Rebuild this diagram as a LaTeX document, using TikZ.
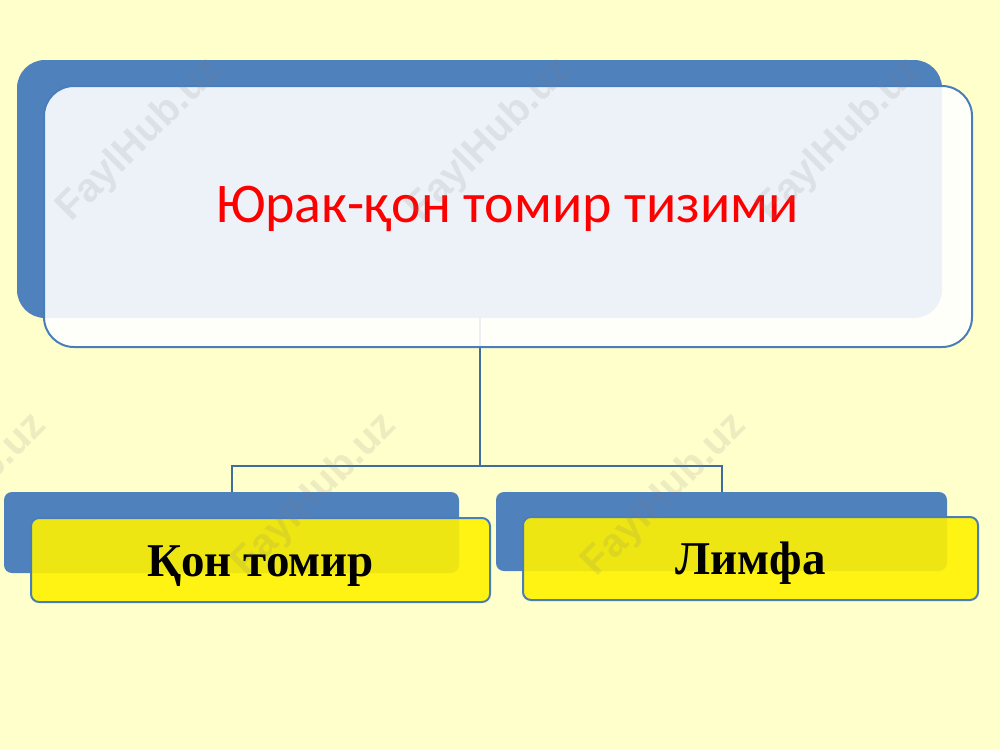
\documentclass[tikz,border=0pt]{standalone}
\usepackage{fontspec}
\setmainfont{Liberation Serif}
\newfontfamily\calib{Carlito}
\newfontfamily\wmfont{Liberation Sans}
\definecolor{bgyel}{HTML}{FFFFCC}
\definecolor{accblue}{HTML}{4F81BD}
\definecolor{edgeblue}{HTML}{4A7EBB}
\definecolor{connblue}{HTML}{3F6D9F}
\definecolor{titlered}{HTML}{FF0000}
\tikzset{
  backbox/.style={draw=none, fill=accblue, inner sep=0pt},
  topfront/.style={draw=edgeblue, line width=2pt, fill=white, fill opacity=0.9, rounded corners=30pt, inner sep=0pt},
  botfront/.style={draw=edgeblue, line width=2pt, fill=yellow, fill opacity=0.9, rounded corners=8pt, inner sep=0pt},
  conn/.style={draw=connblue, line width=2pt},
  wmark/.style={font=\wmfont\bfseries\fontsize{40}{46}\selectfont, text=black!50, text opacity=0.15, rotate=45},
  lbl/.style={font=\bfseries\fontsize{47}{54}\selectfont, text=black, inner sep=0pt}
}
\begin{document}
\begin{tikzpicture}[x=1pt,y=-1pt]
\fill[bgyel] (0,0) rectangle (1000,750);
\useasboundingbox (0,0) rectangle (1000,750);
% back boxes
\node[backbox, rounded corners=28pt, minimum width=925pt, minimum height=258pt] (tb) at (479.5,189) {};
\node[backbox, rounded corners=8pt, minimum width=455pt, minimum height=81pt] (lb) at (231.5,532.5) {};
\node[backbox, rounded corners=8pt, minimum width=451pt, minimum height=79pt] (rb) at (721.5,531.5) {};
% connectors
\coordinate (j) at (479.5,466);
\draw[conn] (tb.south) -- (j);
\draw[conn] (j) -| (lb.north);
\draw[conn] (j) -| (rb.north);
% front boxes
\node[topfront, minimum width=928pt, minimum height=261pt] (tf) at (508,216.5) {};
\node[botfront, minimum width=459pt, minimum height=84pt] (lf) at (260.5,560) {};
\node[botfront, minimum width=455pt, minimum height=83pt] (rf) at (750.5,558.5) {};
% texts
\node[font=\calib\fontsize{56}{64}\selectfont, text=titlered, inner sep=0pt, anchor=base] (title) at (507.5,222) {Юрак-қон томир тизими};
\node[lbl, anchor=base] (lt) at (260.5,576) {Қон томир};
\node[lbl, anchor=base] (rt) at (750.5,574) {Лимфа};
% watermarks
\node[wmark] (w1) at (140,140) {FaylHub.uz};
\node[wmark] (w2) at (490,140) {FaylHub.uz};
\node[wmark] (w3) at (840,140) {FaylHub.uz};
\node[wmark] (w4) at (-35,495) {FaylHub.uz};
\node[wmark] (w5) at (315,495) {FaylHub.uz};
\node[wmark] (w6) at (665,495) {FaylHub.uz};
\end{tikzpicture}
\end{document}
